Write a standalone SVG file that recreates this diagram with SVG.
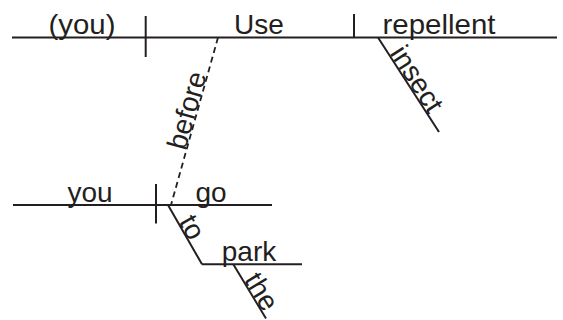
<svg xmlns="http://www.w3.org/2000/svg" width="563" height="320" viewBox="0 0 563 320">
<style>
.w{font-family:"Liberation Sans",Arial,sans-serif;font-size:28px;fill:#231f20;text-anchor:middle}
.l{stroke:#231f20;stroke-width:2;fill:none}
.d{stroke:#231f20;stroke-width:1.8;fill:none;stroke-dasharray:6,4}
</style>
<rect width="563" height="320" fill="#fff"/>
<g id="connectors">
<line class="l" x1="12" y1="37.5" x2="557" y2="37.5"/>
<line class="l" x1="145.7" y1="16" x2="145.7" y2="57"/>
<line class="l" x1="354" y1="14" x2="354" y2="37.5"/>
<line class="l" x1="378" y1="37.5" x2="439" y2="132"/>
<line class="d" x1="218" y1="37.5" x2="171" y2="205"/>
<line class="l" x1="13" y1="205" x2="272" y2="205"/>
<line class="l" x1="156" y1="184" x2="156" y2="223.5"/>
<line class="l" x1="168" y1="205" x2="202" y2="264.3"/>
<line class="l" x1="202" y1="264.3" x2="302" y2="264.3"/>
<line class="l" x1="233.3" y1="264.3" x2="266" y2="318.5"/>
</g>
<g id="node-you-implied"><text class="w" x="82" y="34" textLength="67" lengthAdjust="spacingAndGlyphs">(you)</text></g>
<g id="node-use"><text class="w" x="259" y="34">Use</text></g>
<g id="node-repellent"><text class="w" x="439" y="34" textLength="113" lengthAdjust="spacingAndGlyphs">repellent</text></g>
<g id="node-insect"><text class="w" transform="translate(409,84) rotate(57.3)">insect</text></g>
<g id="node-before"><text class="w" transform="translate(196,113) rotate(-74.3)">before</text></g>
<g id="node-you"><text class="w" x="90" y="201.5">you</text></g>
<g id="node-go"><text class="w" x="211" y="201.5">go</text></g>
<g id="node-to"><text class="w" transform="translate(184,232) rotate(60.4)">to</text></g>
<g id="node-park"><text class="w" x="249" y="261">park</text></g>
<g id="node-the"><text class="w" transform="translate(253.5,296.5) rotate(58.8)">the</text></g>
</svg>
